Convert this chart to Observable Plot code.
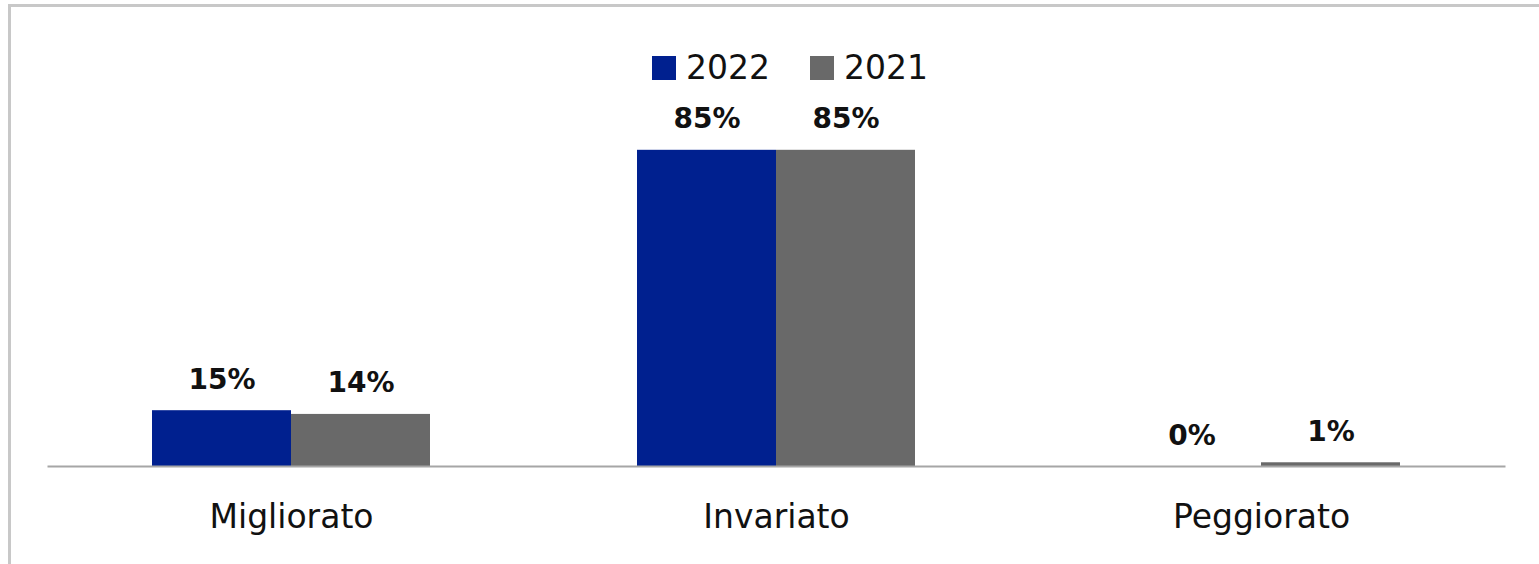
<!DOCTYPE html>
<html>
<head>
<meta charset="utf-8">
<script src="https://cdn.jsdelivr.net/npm/d3@7"></script>
<script src="https://cdn.jsdelivr.net/npm/@observablehq/plot@0.6"></script>
<style>
  html, body { margin: 0; padding: 0; background: #fff; overflow: hidden; }
  #wrap { position: relative; width: 1539px; height: 564px; }
  #border { position: absolute; left: 8px; top: 4px; right: 0; bottom: 0;
            border-top: 3px solid #c8c8c8; border-left: 3px solid #c8c8c8; }
  #chart { position: absolute; left: 0; top: 0; }
  #legend { position: absolute; left: 652px; top: 48px; display: flex; align-items: center;
            font-family: "DejaVu Sans", sans-serif; font-size: 33px; color: #111; }
  #legend .item { display: flex; align-items: center; margin-right: 40px; }
  #legend .sw { width: 24px; height: 24px; margin-right: 10px; }
</style>
</head>
<body>
<div id="wrap">
  <div id="border"></div>
  <div id="chart"></div>
  <div id="legend"></div>
</div>
<script>
const categories = ["Migliorato", "Invariato", "Peggiorato"];
const series = ["2022", "2021"];
const values2022 = [15, 85, 0];
const values2021 = [14, 85, 1];
const colors = ["#00208f", "#696969"];

const data = [];
categories.forEach((c, i) => {
  data.push({cat: c, year: "2022", value: values2022[i]});
  data.push({cat: c, year: "2021", value: values2021[i]});
});

const chart = Plot.plot({
  width: 1539,
  height: 564,
  marginLeft: 48,
  marginRight: 35,
  marginTop: 94,
  marginBottom: 98,
  style: {background: "transparent", fontFamily: "DejaVu Sans, sans-serif"},
  fx: {domain: categories, paddingInner: 0.427, paddingOuter: 0.2135, label: null},
  x: {domain: series, padding: 0, axis: null},
  y: {domain: [0, 100], axis: null},
  color: {domain: series, range: colors},
  marks: [
    Plot.barY(data, {fx: "cat", x: "year", y: "value", fill: "year"}),
    Plot.frame({anchor: "bottom", stroke: "#a6a6a6", strokeWidth: 2, facet: "super",
      insetLeft: -104, insetRight: -104}),
    Plot.text(data, {fx: "cat", x: "year", y: "value", text: d => d.value + "%",
      lineAnchor: "bottom", dy: -22, fontSize: 28, fontWeight: "bold", fill: "#111"}),
    Plot.axisFx({anchor: "bottom", tickSize: 0, tickPadding: 38, fontSize: 33, label: null, fill: "#111"})
  ]
});
document.getElementById("chart").appendChild(chart);

const legend = document.getElementById("legend");
series.forEach((s, i) => {
  const item = document.createElement("div");
  item.className = "item";
  const sw = document.createElement("div");
  sw.className = "sw";
  sw.style.background = colors[i];
  const t = document.createElement("span");
  t.textContent = s;
  item.appendChild(sw);
  item.appendChild(t);
  legend.appendChild(item);
});
</script>
</body>
</html>
